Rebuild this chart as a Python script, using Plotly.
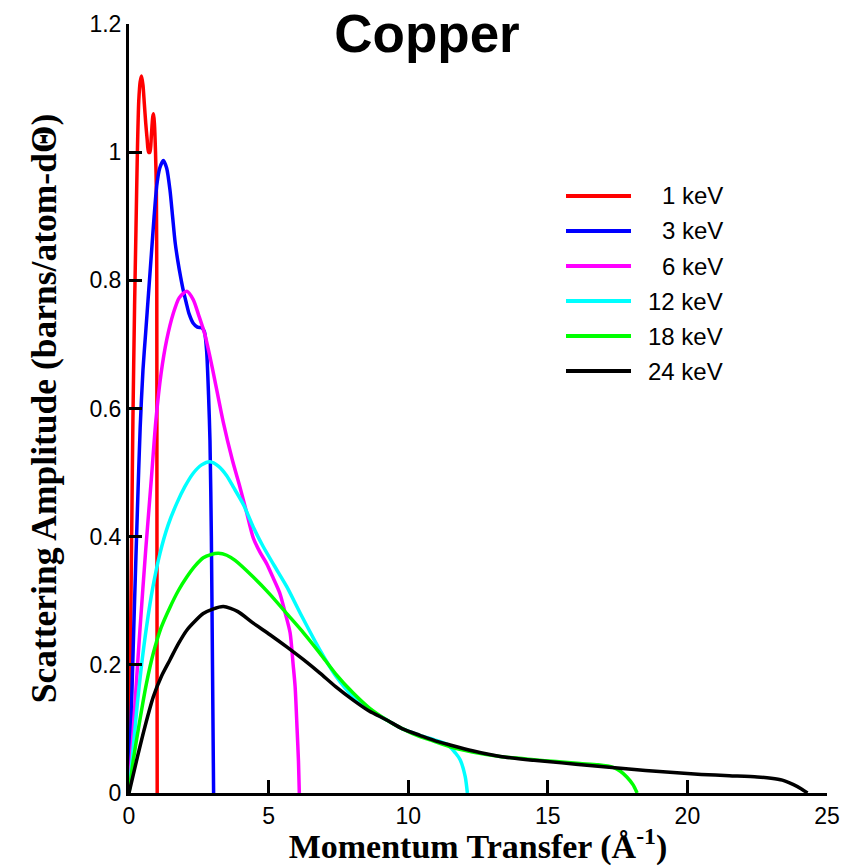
import plotly.graph_objects as go

# Scattering amplitude of copper versus momentum transfer, one curve per photon energy
series_names = ["1 keV", "3 keV", "6 keV", "12 keV", "18 keV", "24 keV"]
series_colors = ["#ff0000", "#0000ff", "#ff00ff", "#00ffff", "#00ff00", "#000000"]

q_1kev = [0, 0.05, 0.1, 0.14, 0.2, 0.25, 0.3, 0.35, 0.4, 0.45, 0.5, 0.55, 0.6, 0.65,
          0.7, 0.75, 0.8, 0.85, 0.88, 0.91, 0.95, 0.98, 0.995, 1.0, 1.005, 1.01]
amp_1kev = [0, 0.22, 0.42, 0.58, 0.76, 0.88, 1.0, 1.08, 1.11, 1.119, 1.105, 1.075, 1.045, 1.02,
            1.0, 1.0, 1.025, 1.055, 1.06, 1.045, 1.0, 0.94, 0.8, 0.5, 0.2, 0.0]

q_3kev = [0, 0.1, 0.2, 0.3, 0.4, 0.5, 0.6, 0.7, 0.8, 0.9, 1.0, 1.1, 1.23, 1.35, 1.47,
          1.56, 1.65, 1.75, 1.85, 1.95, 2.05, 2.15, 2.3, 2.45, 2.6, 2.7, 2.78, 2.85, 2.9,
          2.95, 2.99, 3.03]
amp_3kev = [0, 0.15, 0.3, 0.44, 0.57, 0.66, 0.72, 0.78, 0.84, 0.9, 0.95, 0.975, 0.987, 0.975, 0.94,
            0.9, 0.86, 0.83, 0.805, 0.783, 0.765, 0.748, 0.733, 0.727, 0.726, 0.72, 0.69, 0.62, 0.55,
            0.4, 0.2, 0.0]

q_6kev = [0, 0.2, 0.4, 0.6, 0.8, 0.96, 1.15, 1.35, 1.59, 1.8, 2.07, 2.3, 2.5, 2.72, 3.0,
          3.37, 3.7, 3.97, 4.2, 4.45, 4.7, 4.93, 5.15, 5.4, 5.6, 5.77, 5.88, 5.95, 6.02,
          6.07, 6.1]
amp_6kev = [0, 0.13, 0.26, 0.38, 0.49, 0.58, 0.655, 0.707, 0.749, 0.773, 0.783, 0.77, 0.745, 0.715, 0.66,
            0.58, 0.52, 0.478, 0.44, 0.398, 0.375, 0.358, 0.337, 0.312, 0.28, 0.25, 0.2, 0.166, 0.1,
            0.05, 0.0]

q_12kev = [0, 0.15, 0.3, 0.45, 0.63, 0.85, 1.11, 1.4, 1.71, 2.0, 2.3, 2.6, 2.9, 3.2, 3.5,
           3.73, 4.1, 4.45, 4.8, 5.2, 5.65, 6.2, 6.84, 7.4, 8.03, 8.6, 9.23, 9.8, 10.42,
           11.0, 11.43, 11.7, 11.86, 12.04, 12.12]
amp_12kev = [0, 0.07, 0.14, 0.2, 0.26, 0.32, 0.374, 0.418, 0.452, 0.478, 0.499, 0.512, 0.517, 0.51, 0.495,
             0.478, 0.45, 0.415, 0.385, 0.355, 0.322, 0.275, 0.223, 0.183, 0.15, 0.13, 0.114, 0.1, 0.09,
             0.082, 0.075, 0.062, 0.052, 0.026, 0.0]

q_18kev = [0, 0.15, 0.39, 0.62, 0.87, 1.15, 1.47, 1.77, 2.07, 2.36, 2.66, 2.93, 3.2, 3.5, 3.8, 4.45,
           5.05, 5.65, 6.25, 6.84, 7.4, 8.03, 8.6, 9.23, 9.8, 10.42, 10.78, 11.5, 12.3, 13.29,
           14.5, 15.3, 16.15, 16.8, 17.34, 17.6, 17.83, 18.05, 18.2]
amp_18kev = [0, 0.05, 0.114, 0.17, 0.218, 0.258, 0.29, 0.316, 0.337, 0.354, 0.367, 0.372, 0.374, 0.371,
             0.363, 0.337, 0.31, 0.28, 0.25, 0.218, 0.186, 0.156, 0.133, 0.114, 0.1, 0.088, 0.083,
             0.072, 0.064, 0.057, 0.052, 0.049, 0.046, 0.044, 0.04, 0.034, 0.025, 0.013, 0.0]

q_24kev = [0, 0.3, 0.58, 0.87, 1.17, 1.47, 1.77, 2.07, 2.36, 2.66, 3.0, 3.38, 3.9, 4.45, 5.05,
           5.65, 6.25, 6.84, 7.4, 8.03, 8.6, 9.23, 9.8, 10.42, 11.0, 11.5, 12.3, 13.3, 14.5,
           15.5, 16.5, 17.5, 18.5, 19.5, 20.5, 21.5, 22.5, 23.0, 23.4, 23.8, 24.1, 24.3]
amp_24kev = [0, 0.056, 0.105, 0.15, 0.183, 0.208, 0.233, 0.254, 0.268, 0.28, 0.287, 0.291, 0.283,
             0.265, 0.247, 0.228, 0.208, 0.187, 0.166, 0.145, 0.128, 0.114, 0.1, 0.09, 0.081, 0.075,
             0.066, 0.057, 0.051, 0.047, 0.043, 0.039, 0.035, 0.032, 0.029, 0.027, 0.025, 0.023,
             0.02, 0.013, 0.006, 0.0]

x_ticks = [0, 5, 10, 15, 20, 25]
y_ticks = [0, 0.2, 0.4, 0.6, 0.8, 1.0, 1.2]

all_q = [q_1kev, q_3kev, q_6kev, q_12kev, q_18kev, q_24kev]
all_amp = [amp_1kev, amp_3kev, amp_6kev, amp_12kev, amp_18kev, amp_24kev]

W, H = 858, 866
L, R, T, B = 129, 31, 24, 73
plot_w, plot_h = W - L - R, H - T - B

fig = go.Figure()
for name, color, q, a in zip(series_names, series_colors, all_q, all_amp):
    fig.add_trace(go.Scatter(x=q, y=a, mode="lines", name=name,
                             line=dict(color=color, width=3.5, shape="spline", smoothing=0.7),
                             showlegend=False))

# hand-made key: long line samples with right-aligned labels
def px_to_paper(px, py):
    return (px - L) / plot_w, (H - B - py) / plot_h

for i, (name, color) in enumerate(zip(series_names, series_colors)):
    py = 196 + i * 35
    x0, y0 = px_to_paper(566, py)
    x1, _ = px_to_paper(631, py)
    fig.add_shape(type="line", xref="paper", yref="paper", x0=x0, x1=x1, y0=y0, y1=y0,
                  line=dict(color=color, width=4))
    xt, _ = px_to_paper(725, py)
    fig.add_annotation(text=name, xref="paper", yref="paper", x=xt, y=y0,
                       xanchor="right", yanchor="middle", showarrow=False,
                       font=dict(family="Liberation Sans, Arial", size=24, color="black"))

axis_common = dict(showline=True, linecolor="black", linewidth=3, mirror=False,
                   ticks="inside", ticklen=13, tickwidth=2.5, tickcolor="black",
                   showgrid=False, zeroline=False,
                   tickfont=dict(family="Liberation Sans, Arial", size=23, color="black"))

fig.update_xaxes(range=[0, 25], tickvals=x_ticks, **axis_common,
                 title=dict(text="<b>Momentum Transfer (Å<sup>-1</sup>)</b>", standoff=0,
                            font=dict(family="Liberation Serif, Times New Roman", size=34, color="black")))
fig.update_yaxes(range=[0, 1.2], tickvals=y_ticks, **axis_common,
                 title=dict(text="<b>Scattering Amplitude (barns/atom-dΘ)</b>", standoff=22,
                            font=dict(family="Liberation Serif, Times New Roman", size=35.5, color="black")))

fig.update_layout(
    width=W, height=H,
    margin=dict(l=L, r=R, t=T, b=B, autoexpand=False),
    plot_bgcolor="white", paper_bgcolor="white",
    title=dict(text="<b>Copper</b>", x=427 / W, xref="container", xanchor="center",
               y=1 - 33 / H, yref="container", yanchor="middle",
               font=dict(family="Liberation Sans, Arial", size=53, color="black")),
)

fig.write_html("out.html")
